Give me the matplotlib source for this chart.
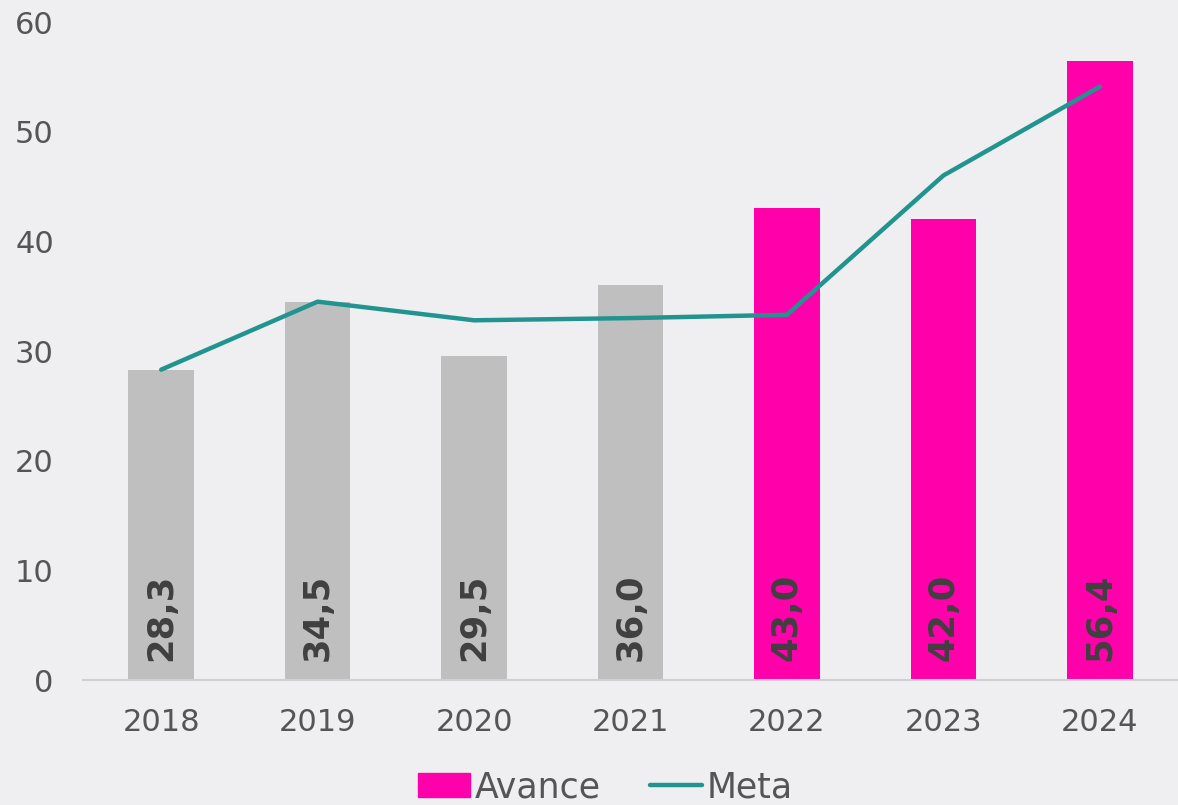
import matplotlib
matplotlib.use("Agg")
import matplotlib.pyplot as plt
import numpy as np
from matplotlib.patches import Patch

years = ["2018", "2019", "2020", "2021", "2022", "2023", "2024"]
avance = [28.3, 34.5, 29.5, 36.0, 43.0, 42.0, 56.4]
meta = [28.3, 34.5, 32.8, 33.0, 33.3, 46.0, 54.1]
labels = ["28,3", "34,5", "29,5", "36,0", "43,0", "42,0", "56,4"]
bar_colors = ["#bfbfbf"] * 4 + ["#ff00aa"] * 3

plt.rcParams['font.family'] = ['DejaVu Sans']
bg = "#efeff1"
fig = plt.figure(figsize=(11.78, 8.05), dpi=100, facecolor=bg)
ax = fig.add_axes([83/1178, 125/805, 1 - 83/1178, 658/805])
ax.set_facecolor(bg)

x = np.arange(len(years))
ax.bar(x, avance, width=0.42, color=bar_colors, zorder=2, label="Avance")
line, = ax.plot(x, meta, color="#229490", lw=3.2, solid_capstyle='round',
                solid_joinstyle='round', zorder=3, label="Meta")

for xi, lab in zip(x, labels):
    ax.annotate(lab, (xi, 0), xytext=(0, 14), textcoords="offset points",
                rotation=90, ha="center", va="bottom", fontsize=25.5,
                fontweight="bold", color="#404040", zorder=4)

ax.set_xlim(-0.5, 6.5)
ax.set_ylim(0, 60)
ax.set_yticks([0, 10, 20, 30, 40, 50, 60])
ax.set_xticks(x)
ax.set_xticklabels(years)
ax.tick_params(axis='both', length=0, labelsize=22, colors="#555555")
ax.tick_params(axis='y', pad=21)
ax.tick_params(axis='x', pad=20)
for s in ["top", "right", "left"]:
    ax.spines[s].set_visible(False)
ax.spines["bottom"].set_color("#d0d0d0")
ax.spines["bottom"].set_linewidth(1.5)

handles = [Patch(color="#ff00aa"), line]
fig.legend(handles, ["Avance", "Meta"], loc="center",
           bbox_to_anchor=(0.514, 0.022), ncol=2, frameon=False,
           fontsize=25, handlelength=1.5, handletextpad=0.15,
           columnspacing=1.4, labelcolor="#555555")

fig.savefig("out.png", dpi=100, facecolor=bg)
